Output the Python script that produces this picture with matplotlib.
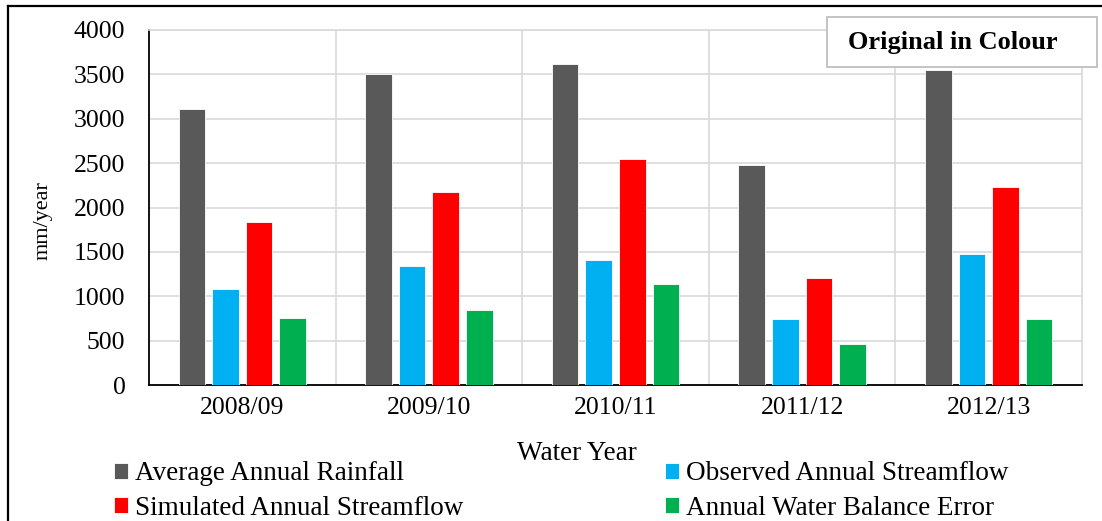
import matplotlib
matplotlib.use("Agg")

import matplotlib.pyplot as plt
import matplotlib.patches as patches
from matplotlib.lines import Line2D
import numpy as np

plt.rcParams["font.family"] = ["Liberation Serif", "DejaVu Serif"]

# ── Data (mm/year) ──
years = ["2008/09", "2009/10", "2010/11", "2011/12", "2012/13"]
rainfall = [3105, 3500, 3615, 2480, 3548]
observed = [1078, 1338, 1405, 743, 1479]
simulated = [1836, 2177, 2549, 1205, 2226]
balance_error = [755, 841, 1137, 459, 743]

labels = [
    "Average Annual Rainfall",
    "Observed Annual Streamflow",
    "Simulated Annual Streamflow",
    "Annual Water Balance Error",
]
colors = ["#595959", "#00b0f0", "#ff0000", "#00b050"]

W, H = 1102, 521
fig = plt.figure(figsize=(W / 100, H / 100), dpi=100)
ax = fig.add_axes([149 / W, 1 - 385 / H, (1082 - 149) / W, (385 - 30) / H])

x = np.arange(len(years))
step, width = 0.18, 0.142
handles = []
for i, (vals, col) in enumerate(zip([rainfall, observed, simulated, balance_error], colors)):
    b = ax.bar(x + (i - 1.5) * step, vals, width=width, color=col,
               edgecolor="white", linewidth=0.6, zorder=3)
    handles.append(b)

ax.set_xlim(-0.5, len(years) - 0.5)
ax.set_ylim(0, 4000)
ax.set_yticks(np.arange(0, 4001, 500))
ax.set_xticks(x)
ax.set_xticklabels(years)
ax.set_xticks(np.arange(0.5, len(years) - 1, 1), minor=True)
ax.tick_params(axis="both", which="both", length=0, labelsize=18.5)
ax.tick_params(axis="y", pad=17)
ax.tick_params(axis="x", pad=9)

grid_col = "#d9d9d9"
ax.set_axisbelow(True)
ax.yaxis.grid(True, color=grid_col, linewidth=1.2)
ax.xaxis.grid(True, which="minor", color=grid_col, linewidth=1.2)
ax.xaxis.grid(False, which="major")
for side in ("top", "right"):
    ax.spines[side].set_color(grid_col)
    ax.spines[side].set_linewidth(1.2)
for side in ("left", "bottom"):
    ax.spines[side].set_color("black")
    ax.spines[side].set_linewidth(1.3)

fig.text(43 / W, 1 - 221 / H, "mm/year", rotation=90, ha="center", va="center",
         fontsize=16)
fig.text(577 / W, 1 - 454 / H, "Water Year", ha="center", va="center",
         fontsize=19.5)

# legend in two columns
leg_kw = dict(frameon=False, fontsize=19.5, handlelength=0.5, handleheight=0.5,
              handletextpad=0.27, labelspacing=0.34, borderpad=0, borderaxespad=0,
              loc="center left")
leg1 = fig.legend([handles[0], handles[2]], [labels[0], labels[2]],
                  bbox_to_anchor=(114 / W, 1 - 491 / H), **leg_kw)
leg2 = fig.legend([handles[1], handles[3]], [labels[1], labels[3]],
                  bbox_to_anchor=(665 / W, 1 - 491 / H), **leg_kw)

# outer frame (cropped at right and bottom)
fig.add_artist(Line2D([8 / W, 8 / W], [0, 1 - 6 / H], transform=fig.transFigure,
                      color="black", linewidth=1.6))
fig.add_artist(Line2D([8 / W, 1], [1 - 6 / H, 1 - 6 / H], transform=fig.transFigure,
                      color="black", linewidth=1.6))

# "Original in Colour" box
fig.add_artist(patches.Rectangle((827 / W, 1 - 67 / H), 270 / W, 50 / H,
                                 transform=fig.transFigure, facecolor="white",
                                 edgecolor="#bfbfbf", linewidth=1.3, zorder=5))
fig.text(953 / W, 1 - 43 / H, "Original in Colour", ha="center", va="center",
         fontsize=19, fontweight="bold", zorder=6)

fig.savefig("out.png", dpi=100, facecolor="white")
plt.close(fig)
